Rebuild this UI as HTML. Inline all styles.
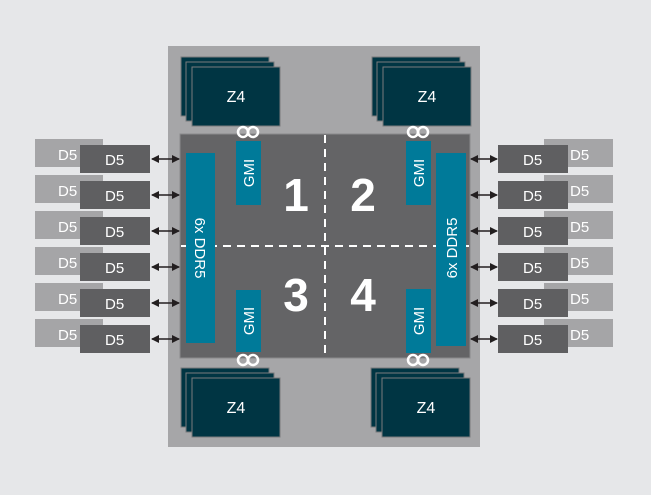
<!DOCTYPE html>
<html><head><meta charset="utf-8"><style>
html,body{margin:0;padding:0;background:#e6e7e9;}
svg{display:block}
text{font-family:"Liberation Sans",sans-serif;fill:#fff}
</style></head><body>
<svg width="651" height="495" viewBox="0 0 651 495" xmlns="http://www.w3.org/2000/svg">
<rect width="651" height="495" fill="#e6e7e9"/>
<rect x="168" y="46" width="312" height="401" fill="#a6a6a8"/>
<rect x="180" y="134" width="290" height="224" fill="#646466" stroke="#8a8a8c" stroke-width="1"/>
<line x1="325" y1="135" x2="325" y2="358" stroke="#fff" stroke-width="2" stroke-dasharray="8,6"/>
<line x1="181" y1="246" x2="469" y2="246" stroke="#fff" stroke-width="2" stroke-dasharray="8,6"/>
<g stroke="#7a7a7c" stroke-width="1" fill="#003543">
<rect x="181" y="57" width="88" height="59"/><rect x="186" y="62" width="88" height="59"/><rect x="192" y="67" width="88" height="59"/>
<rect x="372" y="57" width="88" height="59"/><rect x="377" y="62" width="88" height="59"/><rect x="383" y="67" width="88" height="59"/>
<rect x="181" y="368" width="88" height="59"/><rect x="186" y="373" width="88" height="59"/><rect x="192" y="378" width="88" height="59"/>
<rect x="371" y="368" width="88" height="59"/><rect x="376" y="373" width="88" height="59"/><rect x="382" y="378" width="88" height="59"/>
</g>
<g font-size="16" text-anchor="middle">
<text x="236" y="102">Z4</text><text x="427" y="102">Z4</text>
<text x="236" y="413">Z4</text><text x="426" y="413">Z4</text>
</g>
<g fill="#007a99">
<rect x="236" y="141" width="25" height="64"/><rect x="406" y="141" width="25" height="64"/>
<rect x="236" y="290" width="25" height="62"/><rect x="406" y="289" width="25" height="64"/>
<rect x="186" y="153" width="29" height="190"/><rect x="436" y="153" width="30" height="193"/>
</g>
<g font-size="15" text-anchor="middle">
<text transform="translate(254,173) rotate(-90)">GMI</text>
<text transform="translate(424,173) rotate(-90)">GMI</text>
<text transform="translate(254,321) rotate(-90)">GMI</text>
<text transform="translate(424,321) rotate(-90)">GMI</text>
<text transform="translate(195,248) rotate(90)">6x DDR5</text>
<text transform="translate(457,248) rotate(-90)">6x DDR5</text>
</g>
<g fill="none" stroke="#fff" stroke-width="2.5">
<circle cx="243" cy="132" r="5"/><circle cx="253" cy="132" r="5"/>
<circle cx="413" cy="132" r="5"/><circle cx="423" cy="132" r="5"/>
<circle cx="243" cy="360" r="5"/><circle cx="253" cy="360" r="5"/>
<circle cx="413" cy="360" r="5"/><circle cx="423" cy="360" r="5"/>
</g>
<g font-size="46" font-weight="bold" text-anchor="middle">
<text x="296" y="211">1</text><text x="363" y="211">2</text>
<text x="296" y="311">3</text><text x="363" y="311">4</text>
</g>
<defs>
<marker id="a" markerWidth="8" markerHeight="8" refX="7" refY="4" orient="auto-start-reverse" markerUnits="userSpaceOnUse"><path d="M0,0L8,4L0,8z" fill="#231f20"/></marker>
</defs>
<g id="rows">
<g>
<rect x="35" y="139" width="68" height="28" fill="#a5a5a7"/><rect x="80" y="145" width="70" height="28" fill="#5f5f61"/>
<text x="58" y="160" font-size="15">D5</text><text x="105" y="165" font-size="15">D5</text>
<line x1="152" y1="159" x2="179" y2="159" stroke="#231f20" stroke-width="1.5" marker-start="url(#a)" marker-end="url(#a)"/>
<rect x="544" y="139" width="69" height="28" fill="#a5a5a7"/><rect x="498" y="145" width="70" height="28" fill="#5f5f61"/>
<text x="570" y="160" font-size="15">D5</text><text x="523" y="165" font-size="15">D5</text>
<line x1="471" y1="159" x2="497" y2="159" stroke="#231f20" stroke-width="1.5" marker-start="url(#a)" marker-end="url(#a)"/>
</g>
</g>
<use href="#rows" y="36"/><use href="#rows" y="72"/><use href="#rows" y="108"/><use href="#rows" y="144"/><use href="#rows" y="180"/>
</svg>
</body></html>
